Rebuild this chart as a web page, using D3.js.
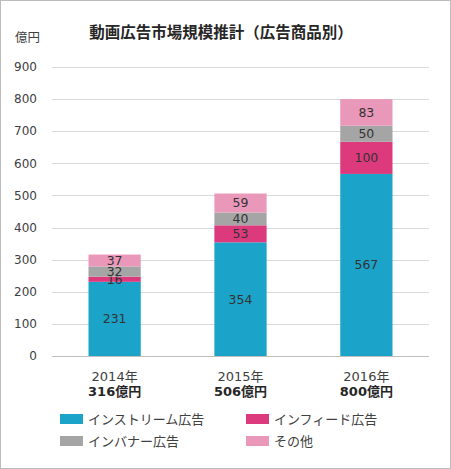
<!DOCTYPE html>
<html>
<head>
<meta charset="utf-8">
<script src="https://cdn.jsdelivr.net/npm/d3@7"></script>
<style>
  body { margin: 0; background: #fff; }
  svg { display: block; font-family: "DejaVu Sans", "Noto Sans CJK JP", sans-serif; }
</style>
</head>
<body>
<svg id="chart"></svg>
<script>
// data
const years = ['2014年', '2015年', '2016年'];
const totals = ['316億円', '506億円', '800億円'];
const seriesNames = ['インストリーム広告', 'インフィード広告', 'インバナー広告', 'その他'];
const instream = [231, 354, 567];
const infeed = [16, 53, 100];
const inbanner = [32, 40, 50];
const others = [37, 59, 83];
const yTicks = [0, 100, 200, 300, 400, 500, 600, 700, 800, 900];
const colors = ['#1ba3c9', '#dc3a7c', '#a5a5a5', '#ea98ba'];

const width = 451, height = 469;
const svg = d3.select('#chart').attr('width', width).attr('height', height);

svg.append('rect')
  .attr('x', 0.5).attr('y', 0.5)
  .attr('width', width - 1).attr('height', height - 1)
  .attr('fill', '#fff').attr('stroke', '#bcbcbc');

const plot = { left: 52, right: 429, top: 67, bottom: 356 };

const x = d3.scaleBand().domain(years).range([plot.left, plot.right]).paddingInner(0.585).paddingOuter(0.29);
const y = d3.scaleLinear().domain([0, 900]).range([plot.bottom, plot.top]);

// gridlines
svg.append('g').selectAll('line')
  .data(yTicks)
  .join('line')
  .attr('x1', plot.left).attr('x2', plot.right)
  .attr('y1', d => Math.round(y(d)) + 0.5).attr('y2', d => Math.round(y(d)) + 0.5)
  .attr('stroke', d => d === 0 ? '#bfbfbf' : '#d9d9d9');

// y labels
svg.append('g').selectAll('text')
  .data(yTicks)
  .join('text')
  .attr('x', 37).attr('y', d => y(d))
  .attr('dy', '0.35em')
  .attr('text-anchor', 'end')
  .attr('font-size', 12)
  .attr('fill', '#404040')
  .text(d => d);

svg.append('text')
  .attr('x', 15).attr('y', 42)
  .attr('font-size', 12.5).attr('fill', '#404040')
  .text('億円');

svg.append('text')
  .attr('x', 221).attr('y', 38)
  .attr('text-anchor', 'middle')
  .attr('font-size', 15.5).attr('font-weight', 'bold').attr('fill', '#262626')
  .text('動画広告市場規模推計（広告商品別）');

// stacks
const rows = years.map((yr, i) => ({
  year: yr,
  [seriesNames[0]]: instream[i],
  [seriesNames[1]]: infeed[i],
  [seriesNames[2]]: inbanner[i],
  [seriesNames[3]]: others[i]
}));
const stacked = d3.stack().keys(seriesNames)(rows);

const layer = svg.append('g').selectAll('g')
  .data(stacked)
  .join('g')
  .attr('fill', (d, i) => colors[i]);

layer.selectAll('rect')
  .data(d => d)
  .join('rect')
  .attr('x', d => x(d.data.year))
  .attr('width', x.bandwidth())
  .attr('y', d => y(d[1]))
  .attr('height', d => y(d[0]) - y(d[1]));

layer.selectAll('text')
  .data(d => d.map(v => ({ v, key: d.key })))
  .join('text')
  .attr('x', d => x(d.v.data.year) + x.bandwidth() / 2)
  .attr('y', d => (y(d.v[0]) + y(d.v[1])) / 2)
  .attr('dy', '0.36em')
  .attr('text-anchor', 'middle')
  .attr('font-size', 12.5)
  .attr('fill', '#333')
  .text(d => d.v.data[d.key]);

// x labels
const xl = svg.append('g').selectAll('g')
  .data(years)
  .join('g')
  .attr('transform', d => `translate(${x(d) + x.bandwidth() / 2},0)`);
xl.append('text')
  .attr('y', 381).attr('text-anchor', 'middle')
  .attr('font-size', 13).attr('fill', '#404040')
  .text(d => d);
xl.append('text')
  .attr('y', 396).attr('text-anchor', 'middle')
  .attr('font-size', 13).attr('font-weight', 'bold').attr('fill', '#262626')
  .text((d, i) => totals[i]);

// legend
const legend = svg.append('g').selectAll('g')
  .data(seriesNames)
  .join('g')
  .attr('transform', (d, i) => `translate(${i % 2 === 0 ? 60 : 246},${i < 2 ? 419 : 441})`);
legend.append('rect')
  .attr('x', 0).attr('y', -5)
  .attr('width', 23).attr('height', 10)
  .attr('fill', (d, i) => colors[i]);
legend.append('text')
  .attr('x', 28).attr('dy', '0.36em')
  .attr('font-size', 13).attr('fill', '#404040')
  .text(d => d);
</script>
</body>
</html>
